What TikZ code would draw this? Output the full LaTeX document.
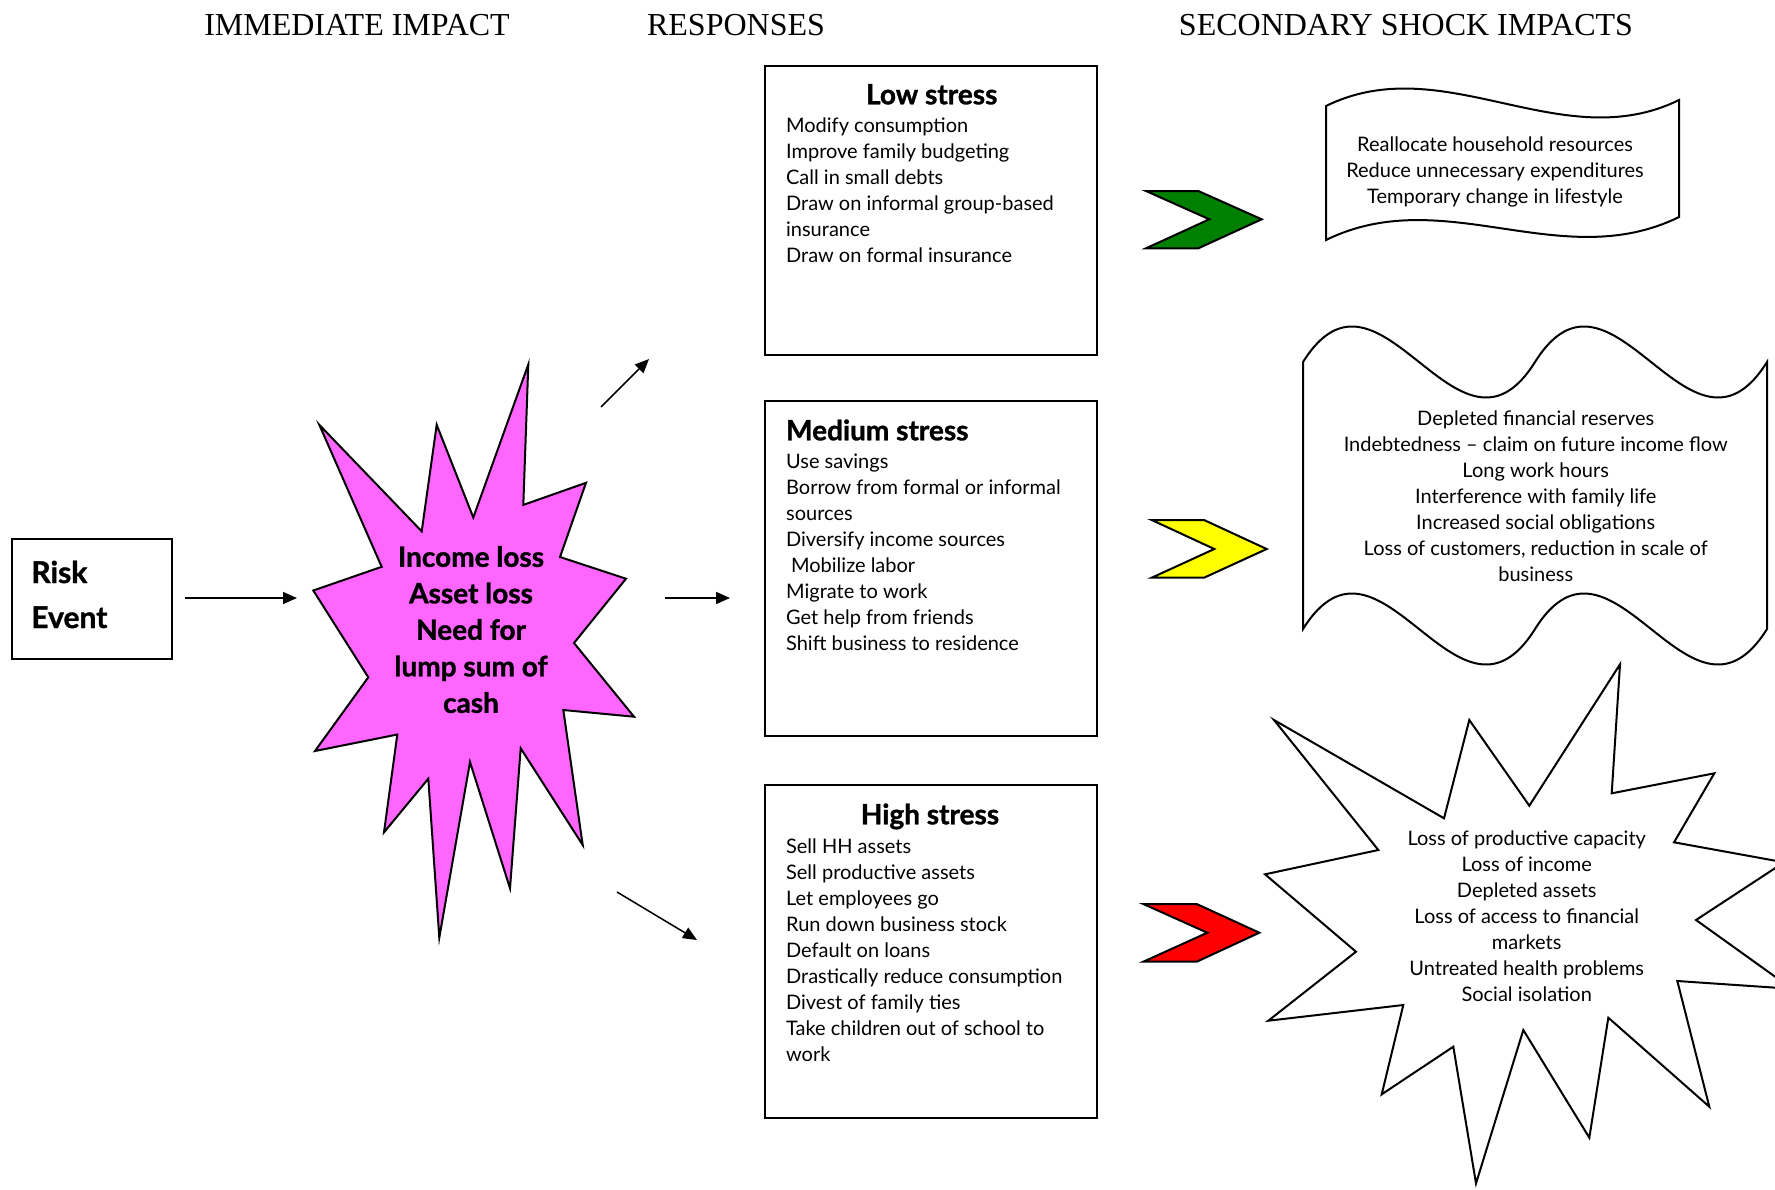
\documentclass[tikz,border=0pt]{standalone}
\usepackage{fontspec}
\setmainfont{Lato}[BoldFeatures={FakeBold=1.2}]
\newfontfamily\titlefont{Liberation Serif}
\usetikzlibrary{arrows.meta}
\definecolor{mag}{HTML}{FF66FF}
\definecolor{cgreen}{HTML}{008000}
\definecolor{cyellow}{HTML}{FFFF00}
\definecolor{cred}{HTML}{FF0000}
\begin{document}
\begin{tikzpicture}[x=0.5pt,y=-0.5pt,
  conn/.style={line width=0.75pt,-{Triangle[length=7pt,width=6pt]}},
  shp/.style={draw=black,line width=1pt,line join=miter},
  box/.style={draw=black,line width=1pt,anchor=north west,inner sep=0pt,minimum width=166pt},
  ttl/.style={font=\titlefont\fontsize{16}{19}\selectfont,anchor=base,inner sep=0pt},
  head/.style={font=\bfseries\fontsize{14}{17}\selectfont,anchor=base,inner sep=0pt},
  body/.style={font=\fontsize{10}{13}\selectfont,align=left,anchor=base west,inner sep=0pt},
  ctext/.style={font=\fontsize{10}{13}\selectfont,align=center,anchor=base,inner sep=0pt},
  big/.style={font=\bfseries\fontsize{14}{18.25}\selectfont,align=center,anchor=base,inner sep=0pt}]
\useasboundingbox (0,0) rectangle (1775,1189);

% column titles
\node[ttl] (t1) at (357,35) {IMMEDIATE IMPACT};
\node[ttl] (t2) at (736,35) {RESPONSES};
\node[ttl] (t3) at (1406,35) {SECONDARY SHOCK IMPACTS};

% risk event
\node[draw=black,line width=1pt,anchor=north west,inner sep=0pt,minimum width=80pt,minimum height=60pt] (risk) at (11,537.5) {};
\node[font=\bfseries\fontsize{15}{22.5}\selectfont,align=left,anchor=base west,inner sep=0pt] (risktxt) at (31,628) {Risk\\Event};

% magenta burst
\draw[shp,fill=mag] (319.3,424.8) -- (421.7,531.3) -- (436.7,424.8) -- (473.3,517.5) -- (528.3,364.5)
  -- (523.3,504.9) -- (586,482.8) -- (560,557) -- (626,578.7) -- (574,643) -- (634,716.7)
  -- (563.3,710) -- (582.7,845) -- (520.7,748.3) -- (510,888.3) -- (470,762) -- (439.3,937.6)
  -- (428.3,778.7) -- (384,832.3) -- (397.3,734.5) -- (315,751) -- (368.3,677.3) -- (313.3,590.5)
  -- (381.7,566.8) -- cycle;
\node[big] (impact) at (471,712.8) {Income loss\\Asset loss\\Need for\\lump sum of\\cash};

% arrows
\coordinate (a0s) at (185,598); \coordinate (a0e) at (297,598);
\coordinate (a1s) at (601,407); \coordinate (a1e) at (649,359);
\coordinate (a2s) at (665,598); \coordinate (a2e) at (730,598);
\coordinate (a3s) at (617,892); \coordinate (a3e) at (697,940);
\draw[conn] (a0s) -- (a0e);
\draw[conn] (a1s) -- (a1e);
\draw[conn] (a2s) -- (a2e);
\draw[conn] (a3s) -- (a3e);

% response boxes
\node[box,minimum height=144.75pt] (low) at (764,64.5) {};
\node[box,minimum height=167.5pt] (med) at (764,400.3) {};
\node[box,minimum height=166.2pt] (high) at (764,784.3) {};

\node[head] (lowh) at (931.7,104.3) {Low stress};
\node[body] (lowb) at (785.7,262.3) {Modify consumption\\Improve family budgeting\\Call in small debts\\Draw on informal group-based\\insurance\\Draw on formal insurance};

\node[head,anchor=base west] (medh) at (785.7,440.3) {Medium stress};
\node[body] (medb) at (785.7,650) {Use savings\\Borrow from formal or informal\\sources\\Diversify income sources\\\hspace*{2.5pt}Mobilize labor\\Migrate to work\\Get help from friends\\Shift business to residence};

\node[head] (highh) at (930,824.3) {High stress};
\node[body] (highb) at (785.7,1061.3) {Sell HH assets\\Sell productive assets\\Let employees go\\Run down business stock\\Default on loans\\Drastically reduce consumption\\Divest of family ties\\Take children out of school to\\work};

% chevrons
\draw[shp,fill=cgreen] (1146,191) -- (1198.3,191) -- (1261.7,219.3) -- (1198.3,248.3) -- (1146,248.3) -- (1209.3,219.3) -- cycle;
\draw[shp,fill=cyellow] (1151.7,520) -- (1204,520) -- (1266.7,549) -- (1204,577.7) -- (1151.7,577.7) -- (1214.3,549) -- cycle;
\draw[shp,fill=cred] (1143.3,904) -- (1196.7,904) -- (1259.3,932.7) -- (1196.7,961.7) -- (1143.3,961.7) -- (1207.3,932.7) -- cycle;

% wave 1
\draw[shp] (1326,106) .. controls (1444,48) and (1561,158) .. (1679,100)
  -- (1679,217) .. controls (1561,275) and (1444,182) .. (1326,240) -- cycle;
\node[ctext] (w1t) at (1495,203.7) {Reallocate household resources\\Reduce unnecessary expenditures\\Temporary change in lifestyle};

% wave 2 (double wave)
\draw[shp] (1303,362) .. controls (1380,239) and (1458,485) .. (1535,362)
  .. controls (1612,239) and (1690,485) .. (1767,362)
  -- (1767,629) .. controls (1690,752) and (1612,506) .. (1535,629)
  .. controls (1458,752) and (1380,506) .. (1303,629) -- cycle;
\node[ctext] (w2t) at (1535.7,581) {Depleted financial reserves\\Indebtedness – claim on future income flow\\Long work hours\\Interference with family life\\Increased social obligations\\Loss of customers, reduction in scale of\\business};

% white burst
\draw[shp,fill=white] (1274,720) -- (1444,818.3) -- (1469.3,720) -- (1529.3,805.7) -- (1620,664.3)
  -- (1611.7,793.3) -- (1714.3,773.3) -- (1674,842.3) -- (1784,862.3) -- (1696,920)
  -- (1792,988.8) -- (1677.3,981) -- (1709.3,1106.7) -- (1608.3,1017.7) -- (1589.3,1137.7)
  -- (1523.3,1030) -- (1476,1183.4) -- (1453.3,1046.7) -- (1381.7,1094.3) -- (1403.3,1005)
  -- (1268.3,1020.7) -- (1356,951.7) -- (1265,874.3) -- (1378.3,850) -- cycle;
\node[ctext] (w3t) at (1526.7,1001) {Loss of productive capacity\\Loss of income\\Depleted assets\\Loss of access to financial\\markets\\Untreated health problems\\Social isolation};
\end{tikzpicture}
\end{document}
